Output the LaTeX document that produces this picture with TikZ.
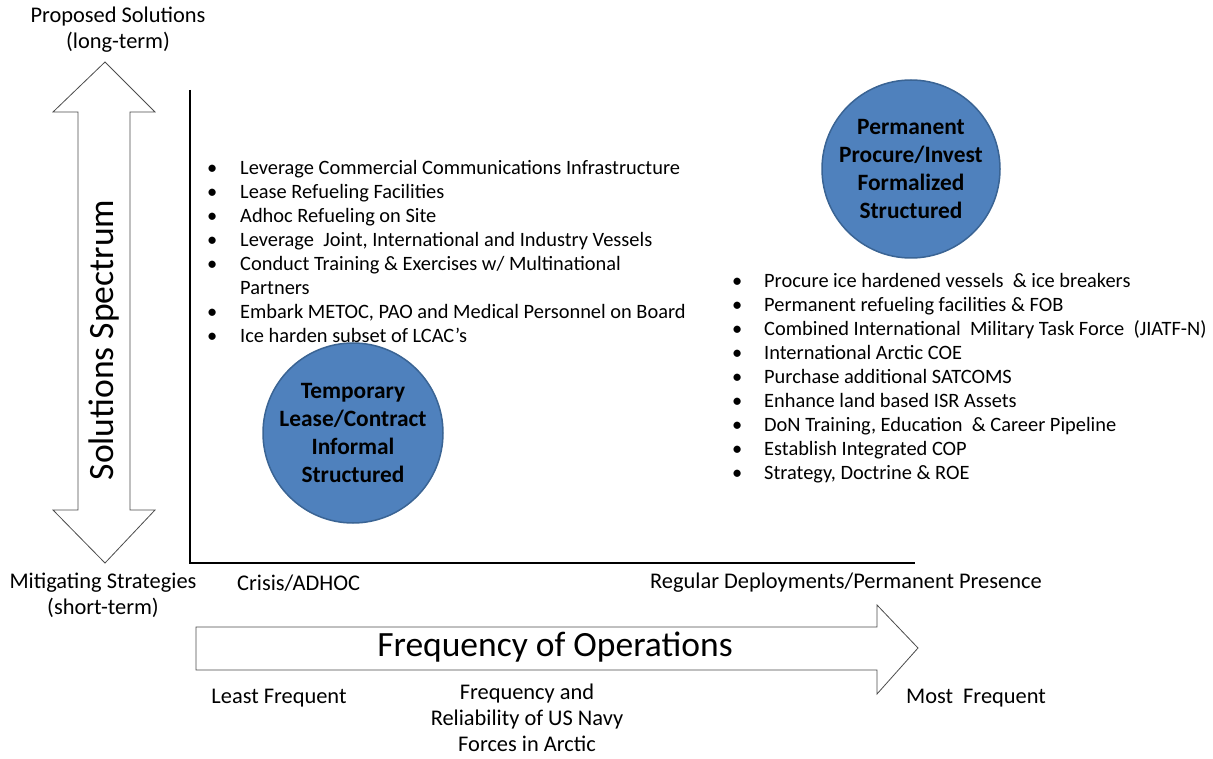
\documentclass[tikz,border=0pt]{standalone}
\usepackage{fontspec}
\setmainfont{Carlito}
\usetikzlibrary{calc}
\definecolor{circfill}{HTML}{4F81BD}
\definecolor{circdraw}{HTML}{3A6494}
\tikzset{
  lbl/.style={font=\fontsize{22.4}{26}\selectfont, inner sep=0pt, align=center},
  circ/.style={circle, fill=circfill, draw=circdraw, line width=1.5pt, minimum size=#1, inner sep=0pt, align=center, font=\fontsize{23.4}{28}\selectfont\bfseries},
  blist/.style={font=\fontsize{20.4}{24}\selectfont, inner sep=0pt, anchor=north west},
  bigarrow/.style={draw=black!70, line width=0.8pt, fill=white, line join=miter},
  axis/.style={draw=black, line width=1.5pt}
}
\newcommand{\bl}{\textbullet}
\begin{document}
\begin{tikzpicture}[x=1pt,y=-1pt]
\useasboundingbox (0,0) rectangle (1213,759);
% vertical double arrow
\draw[bigarrow] (105,62) -- (155,112) -- (130,112) -- (130,510) -- (155,510) -- (105,563) -- (53,510) -- (78,510) -- (78,112) -- (53,112) -- cycle;
\node[lbl, rotate=90, font=\fontsize{35.6}{40}\selectfont] (spec) at (104,340) {Solutions Spectrum};
% horizontal arrow
\draw[bigarrow] (196,627) -- (877,627) -- (877,605) -- (918,648) -- (877,694) -- (877,670) -- (196,670) -- cycle;
\node[lbl, font=\fontsize{35.5}{40}\selectfont] (freq) at (555,647) {Frequency of Operations};
% axes
\coordinate (top) at (190,90);
\coordinate (origin) at (190,563);
\coordinate (right) at (915,563);
\draw[axis] (top) -- (origin) -- (right);
% labels
\node[lbl] (prop) at (118,30) {Proposed Solutions\\(long-term)};
\node[lbl] (mit) at (103,595) {Mitigating Strategies\\(short-term)};
\node[lbl, anchor=west] (crisis) at (237,583) {Crisis/ADHOC};
\node[lbl, anchor=west] (reg) at (650,583) {Regular Deployments/Permanent Presence};
\node[lbl] (least) at (279,698) {Least Frequent};
\node[lbl] (rel) at (527,718) {Frequency and\\Reliability of US Navy\\Forces in Arctic};
\node[lbl] (most) at (976,698) {Most\ \ Frequent};
% circles
\node[circ=180pt] (temp) at (353,433) {Temporary\\Lease/Contract\\Informal\\Structured};
\node[circ=178pt] (perm) at (911,169) {Permanent\\Procure/Invest\\Formalized\\Structured};
% lists
\node[blist] (leftlist) at (207,158) {%
\renewcommand{\arraystretch}{1}%
\begin{tabular}{@{}p{33pt}@{}l@{}}
\bl & Leverage Commercial Communications Infrastructure\\
\bl & Lease Refueling Facilities\\
\bl & Adhoc Refueling on Site\\
\bl & Leverage\ \ Joint, International and Industry Vessels\\
\bl & Conduct Training \& Exercises w/ Multinational\\
    & Partners\\
\bl & Embark METOC, PAO and Medical Personnel on Board\\
\bl & Ice harden subset of LCAC’s
\end{tabular}};
\node[blist] (rightlist) at (732,270) {%
\renewcommand{\arraystretch}{1}%
\begin{tabular}{@{}p{32pt}@{}l@{}}
\bl & Procure ice hardened vessels\ \ \& ice breakers\\
\bl & Permanent refueling facilities \& FOB\\
\bl & Combined International\ \ Military Task Force\ \ (JIATF-N)\\
\bl & International Arctic COE\\
\bl & Purchase additional SATCOMS\\
\bl & Enhance land based ISR Assets\\
\bl & DoN Training, Education\ \ \& Career Pipeline\\
\bl & Establish Integrated COP\\
\bl & Strategy, Doctrine \& ROE
\end{tabular}};
\end{tikzpicture}
\end{document}
